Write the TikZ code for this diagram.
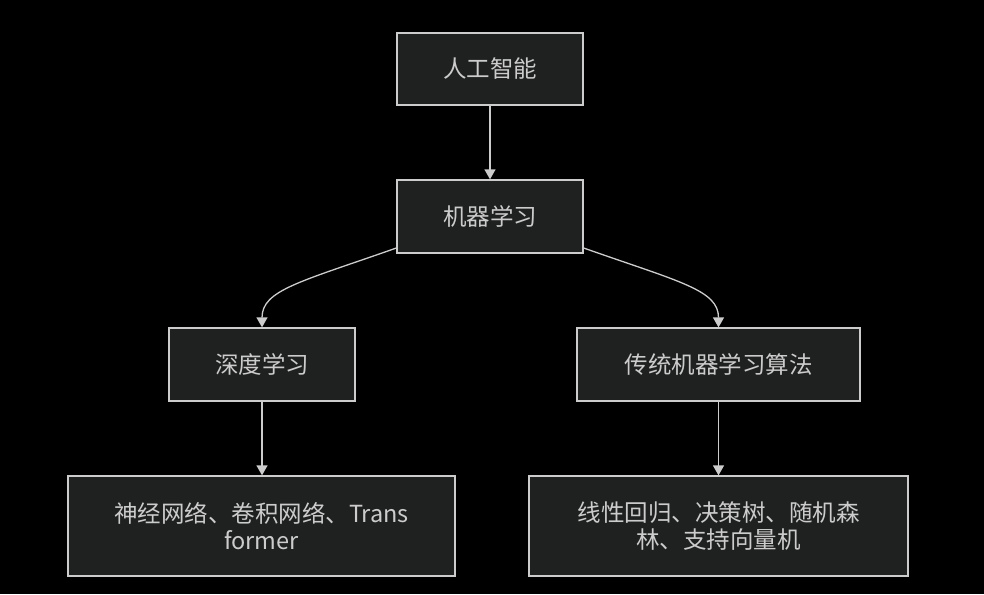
\documentclass[tikz,border=0pt]{standalone}
\usepackage{fontspec}
\setmainfont{Noto Sans CJK SC}
\usetikzlibrary{arrows.meta}
\definecolor{bg}{HTML}{000000}
\definecolor{boxfill}{HTML}{1F2020}
\definecolor{boxline}{HTML}{CCCCCC}
\definecolor{txt}{HTML}{CCCCCC}
\begin{document}
\begin{tikzpicture}[x=1pt,y=-1pt,
  box/.style={draw=boxline, line width=1.3pt, fill=boxfill, text=txt, inner sep=0pt,
    font=\fontsize{23.5}{27}\selectfont, align=center},
  edge/.style={draw=boxline, line width=1.3pt, -{Triangle[width=11pt,length=10pt]}}]
\fill[bg] (0,0) rectangle (984,594);
\useasboundingbox (0,0) rectangle (984,594);
\node[box, minimum width=186pt, minimum height=72pt] (ai) at (490,69) {人工智能};
\node[box, minimum width=186pt, minimum height=73pt] (ml) at (490,216.5) {机器学习};
\node[box, minimum width=186pt, minimum height=73pt] (dl) at (262,364.5) {深度学习};
\node[box, minimum width=283pt, minimum height=73pt] (tml) at (718.5,364.5) {传统机器学习算法};
\node[box, minimum width=387pt, minimum height=100pt] (nn) at (261.5,526) {神经网络、卷积网络、Trans\\former};
\node[box, minimum width=379pt, minimum height=100pt] (lr) at (718.5,526) {线性回归、决策树、随机森\\林、支持向量机};
\draw[edge] (ai) -- (ml);
\draw[edge] (ml.south west |- 0,248) .. controls (300,282) and (262,290) .. (dl.north);
\draw[edge] (ml.south east |- 0,248) .. controls (680,282) and (718.5,290) .. (tml.north);
\draw[edge] (dl) -- (dl |- nn.north);
\draw[edge] (tml) -- (tml |- lr.north);
\end{tikzpicture}
\end{document}
